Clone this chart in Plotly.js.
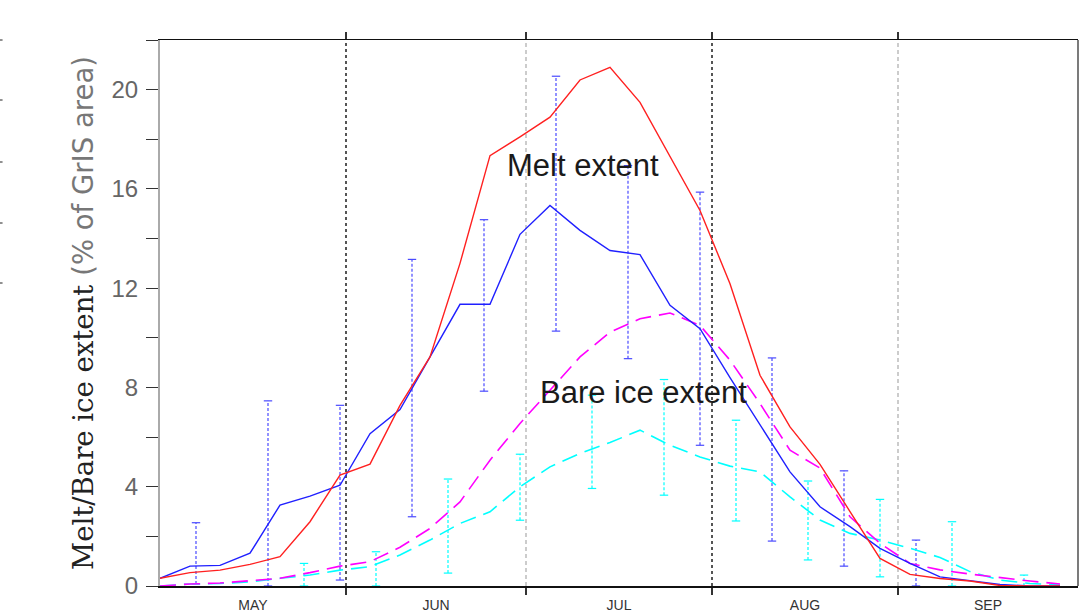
<!DOCTYPE html>
<html>
<head>
<meta charset="utf-8">
<script src="https://cdn.plot.ly/plotly-3.0.1.min.js"></script>
<style>html,body{margin:0;padding:0;background:#fff;}#chart{width:1079px;height:612px;}</style>
</head>
<body>
<div id="chart"></div>
<script>
// pentad days since 1 May
const pentadDay = [0,5,10,15,20,25,30,35,40,45,50,55,60,65,70,75,80,85,90,95,100,105,110,115,120,125,130,135,140,145,150];
const meltYear = [0.31,0.54,0.64,0.87,1.18,2.59,4.47,4.91,7.28,9.23,13.0,17.34,18.1,18.89,20.39,20.9,19.49,17.33,15.13,12.18,8.49,6.41,4.9,3.0,1.11,0.47,0.3,0.2,0.02,0,0];
const meltMean = [0.31,0.80,0.83,1.32,3.26,3.62,4.06,6.14,7.11,9.23,11.35,11.35,14.17,15.33,14.33,13.52,13.35,11.31,10.37,8.4,6.5,4.6,3.19,2.39,1.52,0.91,0.37,0.22,0.06,0,0];
const bareYear = [0,0.08,0.12,0.22,0.31,0.54,0.8,0.98,1.56,2.32,3.39,5.07,6.55,7.89,9.23,10.23,10.77,11.0,10.5,9.1,7.35,5.47,4.75,2.79,1.72,0.91,0.65,0.48,0.33,0.2,0.08];
const bareMean = [0,0.08,0.1,0.17,0.31,0.44,0.64,0.78,1.25,1.85,2.52,2.99,4.0,4.8,5.34,5.78,6.28,5.67,5.2,4.83,4.6,3.59,2.66,2.12,1.85,1.52,1.15,0.58,0.24,0.1,0.04];

const meltBarDay = [6,18,30,42,54,66,78,90,102,114,126];
const meltBarTop = [2.55,7.46,7.28,13.16,14.76,20.54,16.94,15.87,9.19,4.64,1.85];
const meltBarBot = [0.08,0,0.24,2.79,7.85,10.27,9.16,5.67,1.81,0.8,0];
const bareBarDay = [24,36,48,60,72,84,96,108,120,132,144];
const bareBarTop = [0.91,1.38,4.31,5.31,7.69,8.32,6.68,4.23,3.49,2.59,0.44];
const bareBarBot = [0,0,0.52,2.65,3.93,3.66,2.62,1.05,0.37,0,0];

const monthStarts = [31,61,92,123];
const monthMids = [15.5,46,76.5,107.5,138];
const monthLabels = ['MAY','JUN','JUL','AUG','SEP'];
const yTicks = [0,4,8,12,16,20];
const yMinor = [2,6,10,14,18,22];

function barSegments(days, top, bot) {
  const x = [], y = [];
  days.forEach((d, i) => { x.push(d, d, null); y.push(bot[i], top[i], null); });
  return {x, y};
}
function barCaps(days, top, bot) {
  const x = [], y = [];
  days.forEach((d, i) => { x.push(d, d); y.push(top[i], bot[i]); });
  return {x, y};
}

const mSeg = barSegments(meltBarDay, meltBarTop, meltBarBot);
const mCap = barCaps(meltBarDay, meltBarTop, meltBarBot);
const bSeg = barSegments(bareBarDay, bareBarTop, bareBarBot);
const bCap = barCaps(bareBarDay, bareBarTop, bareBarBot);

const traces = [
  {x: mSeg.x, y: mSeg.y, mode: 'lines', line: {color: '#4a4aff', width: 1.2, dash: '3px,2px'}, hoverinfo: 'skip', showlegend: false},
  {x: mCap.x, y: mCap.y, mode: 'markers', marker: {symbol: 'line-ew', size: 6, line: {color: '#4a4aff', width: 1.2}}, hoverinfo: 'skip', showlegend: false},
  {x: bSeg.x, y: bSeg.y, mode: 'lines', line: {color: '#00ffff', width: 1.2, dash: '3px,2px'}, hoverinfo: 'skip', showlegend: false},
  {x: bCap.x, y: bCap.y, mode: 'markers', marker: {symbol: 'line-ew', size: 6, line: {color: '#00ffff', width: 1.2}}, hoverinfo: 'skip', showlegend: false},
  {x: pentadDay, y: bareMean, mode: 'lines', line: {color: '#00ffff', width: 1.6, dash: '16px,8px'}, showlegend: false},
  {x: pentadDay, y: bareYear, mode: 'lines', line: {color: '#ff00ff', width: 1.6, dash: '16px,8px'}, showlegend: false},
  {x: pentadDay, y: meltMean, mode: 'lines', line: {color: '#2020ff', width: 1.4}, showlegend: false},
  {x: pentadDay, y: meltYear, mode: 'lines', line: {color: '#ff2020', width: 1.4}, showlegend: false}
];

const shapes = monthStarts.map((d, i) => ({
  type: 'line', xref: 'x', yref: 'paper', x0: d, x1: d, y0: 0, y1: 1, layer: 'below',
  line: i % 2 === 0 ? {color: '#555', width: 2, dash: 'dot'} : {color: '#999', width: 1, dash: '4px,3px'}
}));
// right border
shapes.push({type: 'line', xref: 'paper', yref: 'paper', x0: 1, x1: 1, y0: 0, y1: 1, line: {color: '#222', width: 1.2}});
// stray ticks of the neighbouring panel at the image's left edge
[40, 100, 162, 223, 283].forEach(py => {
  const yp = (586 - py) / 546;
  shapes.push({type: 'line', xref: 'paper', yref: 'paper', x0: -0.1743, x1: -0.1715, y0: yp, y1: yp, line: {color: '#222', width: 1}});
});

const layout = {
  width: 1079, height: 612,
  margin: {l: 160, r: 1, t: 40, b: 26},
  paper_bgcolor: '#fff', plot_bgcolor: '#fff',
  showlegend: false,
  xaxis: {
    range: [0, 153], showgrid: false, zeroline: false,
    tickmode: 'array', tickvals: monthMids, ticktext: monthLabels, ticks: '',
    tickfont: {family: 'Liberation Sans, Arial, sans-serif', size: 14, color: '#333'},
    ticklabelstandoff: 6,
    showline: true, linecolor: '#111', linewidth: 1.5, mirror: 'ticks',
    minor: {tickmode: 'array', tickvals: monthStarts, ticks: 'outside', ticklen: 7, tickwidth: 1.5, tickcolor: '#333', showgrid: false}
  },
  yaxis: {
    range: [0, 22], showgrid: false, zeroline: false,
    tickmode: 'array', tickvals: yTicks, ticks: 'outside', ticklen: 12, tickwidth: 1, tickcolor: '#333',
    tickfont: {family: 'Liberation Sans, Arial, sans-serif', size: 24, color: '#666'},
    ticklabelstandoff: 3,
    showline: true, linecolor: '#aaa', linewidth: 2,
    minor: {tickmode: 'array', tickvals: yMinor, ticks: 'outside', ticklen: 12, tickwidth: 1, tickcolor: '#333', showgrid: false},
    title: {
      text: '<span style="font-family:DejaVu Serif">Melt/Bare ice extent</span> <span style="font-family:DejaVu Sans;color:#777">(% of GrIS area)</span>',
      font: {family: 'DejaVu Serif', size: 27.5, color: '#222'},
      standoff: 10
    }
  },
  shapes: shapes,
  annotations: [
    {x: 70.5, y: 16.94, xref: 'x', yref: 'y', text: 'Melt extent', showarrow: false,
     font: {family: 'Liberation Sans, Arial, sans-serif', size: 31, color: '#1a1a1a'}},
    {x: 80.5, y: 7.8, xref: 'x', yref: 'y', text: 'Bare ice extent', showarrow: false,
     font: {family: 'Liberation Sans, Arial, sans-serif', size: 31, color: '#1a1a1a'}}
  ]
};

Plotly.newPlot('chart', traces, layout, {displayModeBar: false, staticPlot: true});
</script>
</body>
</html>
